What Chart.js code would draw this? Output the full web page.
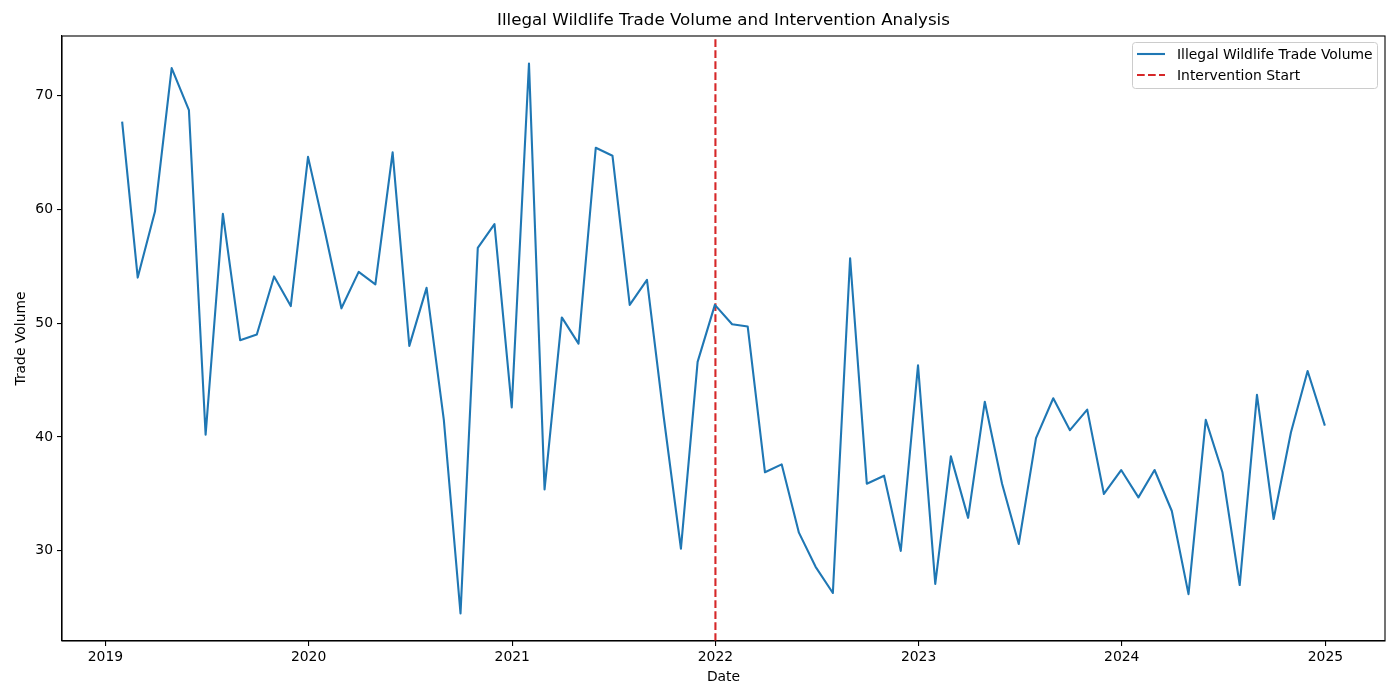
<!DOCTYPE html>
<html>
<head>
<meta charset="utf-8">
<title>Illegal Wildlife Trade Volume and Intervention Analysis</title>
<script src="https://cdn.jsdelivr.net/npm/chart.js@4.4.1/dist/chart.umd.min.js"></script>
<style>
    html, body { margin: 0; padding: 0; background: #fff; }
    canvas { display: block; }
</style>
</head>
<body>
<canvas id="tradeChart" width="1400" height="700"></canvas>
<script>
// monthly series, month-end dates Jan 2019 .. Dec 2024
const startYear = 2019;
const monthCount = 72;

const tradeVolume = [
    67.7, 54.0, 59.8, 72.4, 68.7, 40.2, 59.6, 48.5, 49.0, 54.1, 51.5, 64.6,
    57.9, 51.3, 54.5, 53.4, 65.0, 48.0, 53.1, 41.5, 24.5, 56.6, 58.7, 42.6,
    72.8, 35.4, 50.5, 48.2, 65.4, 64.7, 51.6, 53.8, 41.8, 30.2, 46.6, 51.6,
    49.9, 49.7, 36.9, 37.6, 31.6, 28.6, 26.3, 55.7, 35.9, 36.6, 30.0, 46.3,
    27.1, 38.3, 32.9, 43.1, 35.9, 30.6, 39.9, 43.4, 40.6, 42.4, 35.0, 37.1,
    34.7, 37.1, 33.5, 26.2, 41.5, 36.9, 27.0, 43.7, 32.8, 40.4, 45.8, 41.0
];

const yearTicks = [2019, 2020, 2021, 2022, 2023, 2024, 2025];
const volumeTicks = [30, 40, 50, 60, 70];
const interventionDate = Date.UTC(2022, 0, 1);
const chartTitle = 'Illegal Wildlife Trade Volume and Intervention Analysis';

const FONT = '"DejaVu Sans", "Liberation Sans", sans-serif';
const lineColor = '#1f77b4';
const dashColor = '#d62728';

function monthEnd(i) {
    return Date.UTC(startYear, i + 1, 0);
}

const dates = [];
for (let i = 0; i < monthCount; i++) dates.push(monthEnd(i));

// matplotlib-like 5% margins
const xSpan = dates[dates.length - 1] - dates[0];
const xMin = dates[0] - xSpan * 0.05;
const xMax = dates[dates.length - 1] + xSpan * 0.05;
const vMin = Math.min(...tradeVolume), vMax = Math.max(...tradeVolume);
const yMin = vMin - (vMax - vMin) * 0.05;
const yMax = vMax + (vMax - vMin) * 0.05;

// axes frame + title centred over the plot area
const framePlugin = {
    id: 'frame',
    afterDatasetsDraw(chart) {
        const { ctx, chartArea: a } = chart;
        ctx.save();
        ctx.strokeStyle = '#000';
        ctx.lineWidth = 1.1;
        ctx.strokeRect(a.left, a.top, a.right - a.left, a.bottom - a.top);
        ctx.fillStyle = '#000';
        ctx.font = '16.7px ' + FONT;
        ctx.textAlign = 'center';
        ctx.textBaseline = 'middle';
        ctx.fillText(chartTitle, (a.left + a.right) / 2, 21);
        ctx.restore();
    }
};

const legendPlugin = {
    id: 'boxLegend',
    afterDraw(chart) {
        const { ctx, chartArea: a } = chart;
        const sets = chart.data.datasets;
        const w = 245, h = 46;
        const x = a.right - 8 - w, y = a.top + 6;
        ctx.save();
        ctx.beginPath();
        ctx.roundRect(x + 0.5, y + 0.5, w, h, 3);
        ctx.fillStyle = 'rgba(255,255,255,0.8)';
        ctx.fill();
        ctx.strokeStyle = '#cccccc';
        ctx.lineWidth = 1;
        ctx.stroke();
        ctx.font = '13.9px ' + FONT;
        ctx.textBaseline = 'middle';
        sets.forEach((ds, i) => {
            const ry = y + 12 + i * 21;
            ctx.beginPath();
            ctx.setLineDash(ds.borderDash || []);
            ctx.strokeStyle = ds.borderColor;
            ctx.lineWidth = ds.borderWidth;
            ctx.moveTo(x + 5, ry);
            ctx.lineTo(x + 33, ry);
            ctx.stroke();
            ctx.setLineDash([]);
            ctx.fillStyle = '#000';
            ctx.fillText(ds.label, x + 45, ry + 1);
        });
        ctx.restore();
    }
};

const tickFont = { family: FONT, size: 13.9 };

new Chart(document.getElementById('tradeChart').getContext('2d'), {
    type: 'line',
    data: {
        datasets: [{
            label: 'Illegal Wildlife Trade Volume',
            data: dates.map((d, i) => ({ x: d, y: tradeVolume[i] })),
            borderColor: lineColor,
            borderWidth: 2.1,
            borderJoinStyle: 'round',
            pointRadius: 0,
            tension: 0,
            fill: false
        }, {
            label: 'Intervention Start',
            data: [{ x: interventionDate, y: yMin }, { x: interventionDate, y: yMax }],
            borderColor: dashColor,
            borderWidth: 2.1,
            borderDash: [7.7, 3.3],
            pointRadius: 0,
            fill: false
        }]
    },
    options: {
        responsive: false,
        animation: false,
        layout: { padding: { left: 0, right: 15, top: 36, bottom: 0 } },
        plugins: {
            legend: { display: false },
            tooltip: { enabled: false },
            title: { display: false }
        },
        scales: {
            x: {
                type: 'linear',
                min: xMin,
                max: xMax,
                afterBuildTicks: s => { s.ticks = yearTicks.map(y => ({ value: Date.UTC(y, 0, 1) })); },
                afterFit: s => { s.height = 59; },
                grid: { drawOnChartArea: false, drawTicks: true, tickLength: 5, lineWidth: 1.1, color: '#000' },
                border: { display: true, color: '#000', width: 1.1 },
                ticks: {
                    color: '#000',
                    font: tickFont,
                    padding: 3,
                    maxRotation: 0,
                    autoSkip: false,
                    callback: v => new Date(v).getUTCFullYear()
                },
                title: {
                    display: true,
                    text: 'Date',
                    color: '#000',
                    font: tickFont,
                    padding: { top: 0, bottom: 14 }
                }
            },
            y: {
                min: yMin,
                max: yMax,
                afterBuildTicks: s => { s.ticks = volumeTicks.map(v => ({ value: v })); },
                afterFit: s => { s.width = 62; },
                grid: { drawOnChartArea: false, drawTicks: true, tickLength: 5, lineWidth: 1.1, color: '#000' },
                border: { display: true, color: '#000', width: 1.1 },
                ticks: { color: '#000', font: tickFont, padding: 4 },
                title: {
                    display: true,
                    text: 'Trade Volume',
                    color: '#000',
                    font: tickFont,
                    padding: { top: 13, bottom: 0 }
                }
            }
        }
    },
    plugins: [framePlugin, legendPlugin]
});
</script>
</body>
</html>
